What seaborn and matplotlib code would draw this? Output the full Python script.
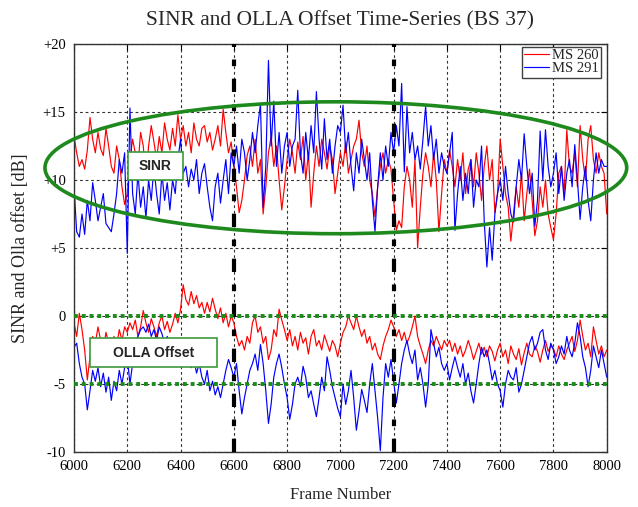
import numpy as np
import pandas as pd
import seaborn as sns
import matplotlib
matplotlib.use("Agg")
import matplotlib.pyplot as plt
from matplotlib.patches import Ellipse, Rectangle

# ---------------- data (10-frame steps) ----------------
frames = list(range(6000, 8001, 10))

sinr_ms260 = [
    13.2, 12.0, 11.0, 11.5, 10.8, 12.2, 14.6, 13.0, 12.0, 13.5, 12.3, 11.8, 13.8, 12.5, 11.0, 10.5, 12.5, 11.5, 9.5, 8.2,
    9.0, 11.5, 13.0, 12.0, 11.0, 13.5, 12.5, 10.0, 12.5, 14.0, 12.8, 11.5, 13.2, 12.0, 14.2, 13.0, 12.2, 13.8, 12.5, 14.8,
    13.0, 14.0, 12.5, 13.5, 12.0, 14.2, 13.0, 12.5, 13.8, 14.0, 12.8, 13.5, 12.2, 13.0, 14.0, 12.5, 15.2, 13.5, 12.0, 12.8,
    11.0, 9.5, 7.6, 8.5, 10.0, 11.8, 12.5, 11.0, 13.0, 10.5, 11.5, 7.5, 9.5, 12.0, 13.2, 11.0, 12.5, 10.0, 7.8, 9.5,
    11.5, 13.0, 12.0, 10.5, 12.8, 11.5, 13.2, 10.0, 12.0, 8.0, 10.5, 12.5, 11.0, 13.0, 12.0, 10.8, 12.5, 11.5, 9.0, 10.5,
    12.0, 11.0, 12.8, 10.5, 11.5, 12.5, 13.0, 14.4, 12.0, 11.0, 12.5, 10.0, 9.0, 7.3, 9.5, 11.0, 12.0, 10.5, 11.5, 10.8,
    8.5, 6.3, 7.0, 6.5, 9.5, 11.0, 10.0, 8.0, 11.5, 5.0, 8.0, 10.5, 12.0, 11.0, 9.5, 12.0, 10.0, 6.2, 9.0, 11.5,
    10.5, 12.2, 11.0, 9.5, 11.5, 10.0, 12.0, 9.0, 10.8, 11.5, 9.5, 12.0, 10.5, 8.5, 11.0, 12.5, 10.0, 11.5, 7.6, 9.0,
    13.0, 11.0, 9.0, 8.0, 5.5, 7.5, 9.5, 8.0, 10.5, 7.0, 9.0, 10.8, 8.5, 5.9, 7.0, 9.5, 8.0, 10.0, 7.5, 6.5,
    5.6, 7.5, 10.5, 11.0, 9.0, 13.7, 11.0, 10.5, 12.0, 9.5, 14.0, 11.5, 10.0, 13.0, 14.0, 11.5, 10.5, 12.0, 11.0, 10.5,
    7.5,
]

sinr_ms291 = [
    9.5, 6.2, 5.8, 7.5, 6.0, 8.5, 7.0, 9.8, 8.5, 7.0, 8.0, 9.0, 6.8, 6.5, 6.2, 7.5, 9.0, 11.5, 10.5, 12.0,
    4.6, 15.3, 9.0, 7.5, 10.5, 8.0, 9.5, 7.2, 10.0, 8.5, 11.0, 9.0, 7.5, 10.5, 8.5, 9.8, 7.8, 10.0, 9.0, 11.5,
    13.0, 10.5, 11.0, 9.5, 10.8, 10.0, 11.5, 9.0, 10.5, 11.2, 9.5, 8.0, 7.0, 9.5, 10.5, 8.3, 10.0, 11.5, 9.0, 12.0,
    11.0, 12.5, 10.5, 13.0, 12.0, 10.0, 11.5, 13.5, 12.0, 14.0, 15.6, 8.0, 11.0, 18.8, 12.5, 15.8, 11.0, 13.5, 10.5, 12.5,
    13.5, 11.0, 12.5, 13.0, 16.6, 12.0, 10.5, 13.5, 11.5, 14.0, 12.0, 16.5, 13.0, 10.8, 14.5, 11.5, 13.0, 10.5, 12.5, 14.0,
    13.5, 15.5, 12.0, 13.5, 11.0, 9.2, 12.0, 10.5, 13.0, 11.5, 10.0, 12.0, 8.5, 6.2, 9.5, 12.0, 10.0, 12.5, 11.0, 13.5,
    12.0, 14.0, 12.5, 17.1, 10.6, 15.4, 12.0, 13.5, 11.5, 12.5, 10.8, 13.0, 15.4, 12.5, 14.0, 11.5, 13.0, 10.5, 12.0, 11.0,
    10.5, 12.0, 13.5, 6.3, 9.0, 11.0, 8.5, 10.5, 9.0, 11.5, 8.0, 10.0, 9.5, 12.5, 7.0, 3.6, 6.5, 4.1, 7.5, 9.0,
    10.0, 8.5, 11.0, 9.0, 7.5, 6.9, 9.5, 11.5, 10.0, 13.4, 11.0, 9.0, 10.5, 6.6, 8.5, 13.6, 10.0, 13.7, 11.0, 9.5,
    10.5, 12.0, 9.0, 11.0, 8.5, 10.5, 11.5, 9.5, 12.6, 10.0, 7.1, 9.5, 11.0, 8.5, 7.0, 10.0, 12.0, 10.5, 11.5, 11.0,
    11.0,
]

olla_ms260 = [
    -0.5, -1.5, 0.2, -1.0, -2.5, -4.7, -3.0, -1.5, -2.0, -0.8, -1.8, -2.5, -1.2, -2.0, -3.0, -1.5, -2.2, -1.0, -1.8, -0.8,
    -1.2, -0.5, -1.0, -0.3, -1.5, -0.8, 0.4, -0.5, -1.2, -0.2, -0.8, -1.5, -0.5, 0.0, -1.0, -0.4, -1.2, -0.6, 0.2, -0.5,
    0.5, 2.3, 1.2, 0.8, 1.8, 0.9, 1.5, 0.6, 1.0, 0.2, 1.0, 0.3, 1.3, 0.5, -0.2, 0.6, -0.5, 0.2, -0.8, 0.0,
    -0.5, -1.5, -2.2, -1.8, -2.5, -1.5, -2.0, -0.5, 0.0, -1.2, -0.8, -2.0, -1.5, -3.2, -2.5, -1.0, -1.5, 0.5, -0.3, -1.0,
    -1.8, -1.0, -2.2, -1.5, -2.5, -1.2, -2.0, -1.6, -2.8, -1.5, -1.0, -2.2, -1.8, -2.5, -1.4, -2.0, -2.6, -1.8, -2.2, -3.0,
    -2.0, -1.2, -0.8, 0.0, -0.5, -1.0, 0.0, -0.8, -1.5, -1.0, -2.0, -1.5, -2.5, -2.0, -2.8, -3.2, -2.2, -1.5, -1.0, -0.3,
    -0.8, -1.5, -1.0, -1.8, -1.2, -2.0, -1.5, -0.8, 0.0, -1.5, -2.2, -2.8, -3.5, -2.5, -1.8, -2.2, -1.5, -2.0, -2.5, -1.8,
    -2.2, -1.8, -2.6, -2.0, -2.8, -2.2, -3.0, -2.5, -1.8, -2.4, -3.2, -2.6, -2.0, -2.8, -2.3, -3.0, -2.2, -2.6, -3.3, -2.5,
    -2.0, -3.0, -2.5, -3.5, -2.2, -2.8, -3.2, -2.4, -3.6, -2.7, -2.0, -2.8, -3.0, -2.2, -2.6, -3.4, -2.5, -1.8, -2.6, -2.2,
    -2.4, -3.0, -2.2, -2.8, -3.2, -2.5, -2.0, -1.5, -2.6, -1.8, -0.3, -1.5, -2.5, -2.0, -3.0, -0.8, -1.8, -2.8, -2.2, -3.0,
    -2.5,
]

olla_ms291 = [
    -2.3, -2.0, -3.5, -4.5, -5.0, -6.9, -5.5, -4.0, -4.8, -3.8, -5.2, -4.2, -5.6, -4.5, -6.2, -4.8, -5.5, -4.0, -5.0, -3.8,
    -3.0, -5.0, -3.5, -2.0, -1.5, -1.0, -0.8, -1.2, -0.6, -1.5, -1.0, -1.8, -0.8, -1.3, -2.0, -1.5, -2.5, -2.0, -3.0, -2.5,
    -3.0, -2.5, -3.5, -2.8, -3.8, -3.2, -4.2, -3.5, -4.5, -5.0, -4.0, -5.5, -4.8, -5.8, -5.2, -6.0, -5.0, -4.0, -3.2, -3.8,
    -4.5, -3.5, -5.5, -7.2, -6.0, -5.0, -4.0, -3.5, -2.8, -4.0, -2.1, -3.5, -5.5, -7.9, -6.5, -4.5, -3.5, -2.8, -3.8, -5.0,
    -6.0, -7.6, -6.5, -5.0, -4.5, -5.2, -3.7, -4.5, -6.0, -5.5, -6.5, -7.4, -6.0, -4.5, -5.5, -3.0, -4.0, -5.2, -6.0, -6.8,
    -7.4, -5.0, -6.5, -5.5, -4.0, -6.0, -8.4, -7.0, -5.4, -6.2, -7.1, -5.0, -3.5, -5.5, -7.5, -9.9, -6.0, -3.5, -4.5, -3.2,
    -4.8, -6.4, -5.0, -3.5, -2.5, -1.8, -2.8, -3.5, -2.5, -4.7, -3.8, -5.0, -6.7, -5.0, -1.0, -2.0, -3.0, -2.3, -3.5, -4.0,
    -3.5, -4.7, -3.8, -3.0, -3.8, -4.5, -3.5, -5.0, -4.2, -5.5, -6.4, -5.0, -3.5, -2.3, -3.0, -2.5, -3.5, -4.7, -4.0, -5.0,
    -5.5, -6.7, -5.0, -4.0, -4.5, -4.7, -3.8, -5.6, -5.0, -4.0, -3.0, -2.0, -1.5, -2.5, -2.0, -1.2, -1.0, -2.5, -3.2, -2.0,
    -2.5, -3.5, -3.0, -2.2, -2.8, -1.5, -2.5, -3.0, -2.0, -0.5, -1.5, -3.0, -3.8, -5.2, -4.0, -2.2, -3.0, -3.8, -2.5, -3.5,
    -4.5,
]

x_ticks = list(range(6000, 8001, 200))
y_ticks = [-10, -5, 0, 5, 10, 15, 20]
y_tick_labels = ["-10", "-5", "0", "+5", "+10", "+15", "+20"]
series_names = ["MS 260", "MS 291"]
colors = {"MS 260": "#ff0000", "MS 291": "#0000ff"}

# ---------------- long-form table ----------------
parts = []
for ms, kind, vals in [("MS 260", "SINR", sinr_ms260), ("MS 260", "OLLA", olla_ms260),
                       ("MS 291", "SINR", sinr_ms291), ("MS 291", "OLLA", olla_ms291)]:
    parts.append(pd.DataFrame({"frame": frames, "value": vals, "MS": ms, "kind": kind}))
df = pd.concat(parts, ignore_index=True)

sns.set_style("white")
plt.rcParams["font.family"] = ["Liberation Serif", "DejaVu Serif"]

fig = plt.figure(figsize=(6.38, 5.07), dpi=100)
ax = fig.add_axes([0.116, 0.1085, 0.835, 0.8047])

sns.lineplot(data=df, x="frame", y="value", hue="MS", units="kind", estimator=None,
             hue_order=series_names, palette=colors, linewidth=0.85, sort=False, ax=ax)

ax.set_xlim(6000, 8000)
ax.set_ylim(-10, 20)
ax.set_xticks(x_ticks)
ax.set_yticks(y_ticks)
ax.set_yticklabels(y_tick_labels)
ax.tick_params(direction="in", top=True, right=True, length=4, width=0.8,
               labelsize=10.5, colors="black", pad=6)
ax.grid(True, color="0.2", linestyle=(0, (2.5, 2.5)), linewidth=0.8)
for sp in ax.spines.values():
    sp.set_color("0.2")
    sp.set_linewidth(1.0)

# reference markers
for xv in [6600, 7200]:
    ax.axvline(xv, color="black", linewidth=3, linestyle=(0, (3.2, 3.0, 1.6, 3.0)), zorder=5)
for yv in [0, -5]:
    ax.axhline(yv, color="#1a8c1a", linewidth=2.8, linestyle=(0, (1, 1.0)), zorder=5)

ax.add_patch(Ellipse((6983, 10.9), width=2184, height=9.7, fill=False,
                     edgecolor="#1e8a1e", linewidth=2.6, clip_on=False, zorder=6))

for (x0, y0, w, h, txt) in [(0.1013, 0.6667, 0.1032, 0.0686, "SINR"),
                           (0.030, 0.2083, 0.238, 0.0711, "OLLA Offset")]:
    ax.add_patch(Rectangle((x0, y0), w, h, transform=ax.transAxes, facecolor="white",
                           edgecolor="#3c9a3c", linewidth=1.2, zorder=7))
    ax.text(x0 + w / 2, y0 + h / 2, txt, transform=ax.transAxes, ha="center", va="center",
            fontsize=10, fontweight="bold", family=["Liberation Sans", "DejaVu Sans"], zorder=8)

handles, labels = ax.get_legend_handles_labels()
leg = ax.legend(handles, labels, loc="upper right", bbox_to_anchor=(0.989, 0.993),
                borderaxespad=0, handlelength=1.7, handletextpad=0.2, labelspacing=0.0,
                borderpad=0.15, fancybox=False, framealpha=1, edgecolor="0.25",
                prop={"family": "Liberation Serif", "size": 10.5})
leg.get_frame().set_linewidth(1.0)
leg.set_zorder(9)

ax.set_title("SINR and OLLA Offset Time-Series (BS 37)", fontsize=15.5, pad=13.5)
ax.set_xlabel("Frame Number", fontsize=12, labelpad=10)
ax.set_ylabel("SINR and Olla offset [dB]", fontsize=13, labelpad=10)

fig.savefig("out.png", dpi=100)
